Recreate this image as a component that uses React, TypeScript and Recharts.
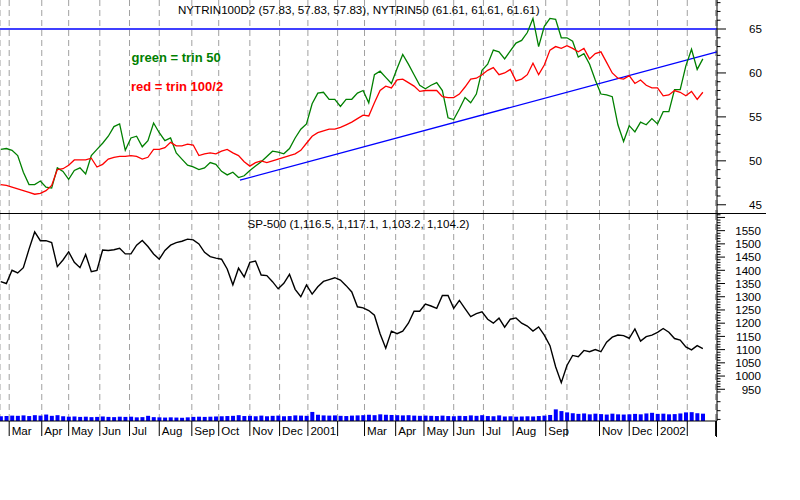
import {
    ComposedChart,
    Line,
    Bar,
    XAxis,
    YAxis,
    CartesianGrid,
    ReferenceLine,
} from "recharts";

// one point every 4 trading days, starting late Feb 2000
const STEP = 4;

// trading-day index of each month start, and the label printed under it
const MONTH_TICKS = [6, 29, 48, 70, 91, 112, 135, 154, 176, 197, 217, 238, 257, 279, 299, 320, 341, 362, 385, 400, 423, 444, 464, 485, 505];
const MONTH_LABELS = ["Mar", "Apr", "May", "Jun", "Jul", "Aug", "Sep", "Oct", "Nov", "Dec", "2001", "", "Mar", "Apr", "May", "Jun", "Jul", "Aug", "Sep", "", "Nov", "Dec", "2002", "", ""];

// NYTRIN50 (green)
const GREEN = [
    51.3, 51.4, 51.2, 50.6, 48.7, 47.3, 47.3, 47.7, 47.0, 46.9,
    49.2, 48.8, 47.9, 48.9, 49.2, 48.5, 50.6, 51.3, 52.0, 52.8,
    53.9, 54.2, 51.2, 52.6, 52.8, 51.6, 52.3, 54.3, 53.2, 52.3,
    52.6, 50.9, 50.2, 49.5, 49.3, 49.0, 49.2, 49.8, 49.6, 48.8,
    48.4, 48.7, 48.1, 48.3, 48.9, 49.4, 49.9, 50.5, 51.1, 51.0,
    50.8, 51.4, 52.6, 53.6, 54.2, 56.5, 57.7, 57.8, 57.0, 57.0,
    56.2, 57.0, 57.0, 57.7, 58.0, 56.6, 59.8, 60.2, 59.5, 58.8,
    60.5, 62.1, 61.0, 59.8, 58.6, 58.2, 58.6, 58.9, 58.0, 54.9,
    54.7, 55.9, 57.2, 56.6, 57.6, 60.3, 61.0, 62.6, 62.4, 61.6,
    62.5, 63.4, 63.7, 64.6, 66.2, 63.0, 65.3, 66.2, 66.1, 64.0,
    64.0, 63.6, 61.8, 62.2, 61.0, 59.2, 57.6, 57.5, 57.3, 54.1,
    52.2, 54.0, 53.3, 54.4, 54.1, 54.8, 54.2, 55.6, 55.6, 58.1,
    58.1, 60.8, 62.7, 60.4, 61.6,
];

// NYTRIN100D2 (red)
const RED = [
    47.3, 47.2, 47.0, 46.8, 46.6, 46.4, 46.2, 46.3, 46.6, 47.2,
    49.0, 49.1, 49.5, 50.1, 50.1, 50.1, 50.3, 49.3, 49.6, 50.2,
    50.4, 50.5, 50.5, 50.6, 50.5, 50.2, 50.4, 51.3, 51.3, 51.5,
    52.1, 51.7, 51.7, 51.9, 51.8, 50.6, 50.8, 50.9, 50.8, 51.1,
    51.3, 50.9, 50.6, 49.9, 49.4, 49.8, 50.0, 49.8, 50.0, 50.2,
    50.4, 50.6, 50.8, 51.2, 52.0, 52.8, 53.2, 53.4, 53.6, 53.6,
    53.8, 54.1, 54.4, 54.8, 55.2, 55.1, 56.6, 58.0, 58.5, 58.3,
    59.2, 59.3, 58.9, 58.5, 57.9, 58.0, 58.0, 58.0, 57.3, 57.2,
    57.2, 57.6, 58.4, 59.3, 59.4, 59.8, 60.3, 60.6, 59.8, 60.0,
    60.4, 59.1, 59.3, 59.8, 61.1, 59.8, 60.9, 62.6, 63.0, 62.8,
    63.1, 62.8, 62.4, 62.8, 61.6, 62.2, 62.4, 61.2, 60.0, 59.4,
    59.3, 59.7, 58.8, 59.2, 58.6, 58.3, 58.3, 57.4, 57.5, 58.0,
    57.8, 57.4, 57.9, 57.0, 57.8,
];

// SP-500 close
const SP500 = [
    1357, 1350, 1400, 1390, 1410, 1480, 1545, 1512, 1512, 1505,
    1414, 1439, 1470, 1430, 1410, 1460, 1395, 1400, 1477, 1475,
    1478, 1483, 1462, 1462, 1495, 1513, 1490, 1462, 1442, 1475,
    1495, 1505, 1510, 1518, 1515, 1500, 1468, 1452, 1446, 1442,
    1405, 1345, 1408, 1375, 1430, 1435, 1382, 1380, 1357, 1330,
    1351, 1385, 1328, 1300, 1345, 1310, 1338, 1358, 1365, 1372,
    1363, 1342, 1318, 1262, 1258, 1248, 1230, 1160, 1105, 1170,
    1160, 1170, 1200, 1245, 1245, 1272, 1265, 1256, 1305, 1305,
    1256, 1286, 1255, 1225, 1236, 1243, 1215, 1200, 1219, 1185,
    1215, 1220, 1200, 1189, 1170, 1186, 1155, 1115, 1035, 975,
    1040, 1078, 1073, 1097, 1092, 1100, 1092, 1128, 1147, 1155,
    1153, 1143, 1178, 1132, 1149, 1155, 1165, 1180, 1166, 1142,
    1136, 1110, 1099, 1115, 1104,
];

// volume, millions of shares
const VOLUME = [
    1100, 1150, 1250, 1200, 1300, 1150, 1350, 1250, 1500, 1200,
    1350, 1100, 1000, 1050, 950, 1000, 900, 950, 1050, 950,
    900, 1000, 950, 1000, 850, 900, 1200, 900, 850, 800,
    850, 800, 750, 850, 950, 1000, 950, 1000, 1050, 1100,
    1150, 1200, 1350, 1150, 1200, 1100, 1250, 1100, 1200, 1250,
    1100, 1150, 1300, 1250, 1200, 2100, 1450, 1300, 1250, 1300,
    1200, 1150, 1250, 1300, 1350, 1450, 1350, 1550, 1450, 1400,
    1350, 1300, 1350, 1250, 1200, 1250, 1200, 1150, 1250, 1150,
    1100, 1200, 1150, 1300, 1200, 1350, 1150, 1100, 1300, 1050,
    1100, 1000, 1050, 1100, 1050, 1150, 1250, 1400, 2700, 2300,
    2000, 1800, 1650, 1750, 1550, 1700, 1600, 1500, 1700, 1550,
    1500, 1550, 1650, 1550, 1750, 1900, 1650, 1700, 1550, 1600,
    1750, 2000, 2050, 1800, 1700,
];

const TRIN_TICKS = [44, 45, 46, 47, 48, 49, 50, 51, 52, 53, 54, 55, 56, 57, 58, 59, 60, 61, 62, 63, 64, 65, 66, 67, 68];
const SP_LABELS = [950, 1000, 1050, 1100, 1150, 1200, 1250, 1300, 1350, 1400, 1450, 1500, 1550];
const SP_LOW_TICKS = [836, 869, 903];

const UPPER_LIMIT = 65;
// trend line drawn under the TRIN lows: [index, value]
const TREND_FROM = [169, 47.8];
const TREND_TO = [506, 62.4];

const X_DOMAIN = [-0.5, 506];
const FONT = "'Liberation Sans', Arial, sans-serif";

const rows = GREEN.map((g, k) => ({
    i: k * STEP,
    green: g,
    red: RED[k],
    sp: SP500[k],
    vol: VOLUME[k],
}));

const spTicks = [...SP_LOW_TICKS];
for (let v = 940; v <= 1610; v += 10) spTicks.push(v);

const TrinTick = (props: any) => {
    const { x, y, payload } = props;
    const v = payload.value;
    const major = v % 5 === 0;
    return (
        <g>
            <line x1={x} x2={x + (major ? 9 : 3.5)} y1={y} y2={y} stroke="#000" />
            {major && (
                <text x={x + 45} y={y + 4.3} textAnchor="end" fontSize={11.6} fontFamily={FONT} fill="#000">
                    {v}
                </text>
            )}
        </g>
    );
};

const SpTick = (props: any) => {
    const { x, y, payload } = props;
    const v = payload.value;
    const major = v % 50 === 0;
    const label = SP_LABELS.includes(v);
    return (
        <g>
            <line x1={x} x2={x + (major ? 8 : 3.5)} y1={y} y2={y} stroke="#000" />
            {label && (
                <text x={x + 44} y={y + 4.3} textAnchor="end" fontSize={11.6} fontFamily={FONT} fill="#000">
                    {v}
                </text>
            )}
        </g>
    );
};

const MonthTick = (props: any) => {
    const { x, y, payload } = props;
    const label = MONTH_LABELS[MONTH_TICKS.indexOf(payload.value)];
    return (
        <g>
            <line x1={x} x2={x} y1={y} y2={y + 15} stroke="#000" />
            {label && (
                <text x={x + 2.5} y={y + 13.5} fontSize={11.6} fontFamily={FONT} fill="#000">
                    {label}
                </text>
            )}
        </g>
    );
};

export default function App() {
    return (
        <div style={{ position: "absolute", left: 0, top: 0, width: 800, height: 500, background: "#fff" }}>
            {/* upper panel: TRIN lines */}
            <div style={{ position: "absolute", left: 0, top: 0 }}>
                <ComposedChart width={800} height={214} data={rows} margin={{ top: 0, right: 0, bottom: 0, left: 0 }}>
                    <XAxis type="number" dataKey="i" domain={X_DOMAIN} ticks={MONTH_TICKS} interval={0} hide />
                    <YAxis
                        orientation="right"
                        domain={[43.95, 68.3]}
                        ticks={TRIN_TICKS}
                        interval={0}
                        width={83}
                        tick={TrinTick}
                        tickLine={false}
                        tickSize={0}
                        tickMargin={0}
                        axisLine={{ stroke: "#000" }}
                        allowDataOverflow
                    />
                    <CartesianGrid horizontal={false} stroke="#a0a0a0" strokeDasharray="6 4" />
                    <ReferenceLine y={UPPER_LIMIT} stroke="#0000ff" strokeWidth={1.3} />
                    <ReferenceLine
                        segment={[
                            { x: TREND_FROM[0], y: TREND_FROM[1] },
                            { x: TREND_TO[0], y: TREND_TO[1] },
                        ]}
                        stroke="#0000ff"
                        strokeWidth={1.3}
                    />
                    <Line dataKey="green" stroke="#008000" strokeWidth={1.3} dot={false} activeDot={false} isAnimationActive={false} />
                    <Line dataKey="red" stroke="#ff0000" strokeWidth={1.3} dot={false} activeDot={false} isAnimationActive={false} />
                </ComposedChart>
            </div>

            {/* lower panel: SP-500 with volume */}
            <div style={{ position: "absolute", left: 0, top: 214 }}>
                <ComposedChart width={800} height={286} data={rows} margin={{ top: 0, right: 0, bottom: 0, left: 0 }}>
                    <XAxis
                        type="number"
                        dataKey="i"
                        domain={X_DOMAIN}
                        ticks={MONTH_TICKS}
                        interval={0}
                        height={79}
                        tick={MonthTick}
                        tickLine={false}
                        tickSize={0}
                        tickMargin={0}
                        axisLine={{ stroke: "#000" }}
                    />
                    <YAxis
                        orientation="right"
                        domain={[830, 1613]}
                        ticks={spTicks}
                        interval={0}
                        width={83}
                        tick={SpTick}
                        tickLine={false}
                        tickSize={0}
                        tickMargin={0}
                        axisLine={{ stroke: "#000" }}
                        allowDataOverflow
                    />
                    <YAxis yAxisId="vol" orientation="right" domain={[0, 48000]} hide />
                    <CartesianGrid horizontal={false} stroke="#a0a0a0" strokeDasharray="6 4" />
                    <Bar dataKey="vol" yAxisId="vol" fill="#0000ff" barSize={4} activeBar={false} isAnimationActive={false} />
                    <Line dataKey="sp" stroke="#000" strokeWidth={1.4} dot={false} activeDot={false} isAnimationActive={false} />
                </ComposedChart>
            </div>

            {/* frame bits that run past the plot */}
            <div style={{ position: "absolute", left: 0, top: 213, width: 766, height: 1, background: "#000" }} />
            <div style={{ position: "absolute", left: 716, top: 421, width: 1, height: 16, background: "#000" }} />

            <svg width={800} height={500} style={{ position: "absolute", left: 0, top: 0, pointerEvents: "none" }}>
                <text x={178} y={14} fontSize={11.6} fontFamily={FONT} fill="#000">
                    NYTRIN100D2 (57.83, 57.83, 57.83), NYTRIN50 (61.61, 61.61, 61.61)
                </text>
                <text x={131.5} y={61.5} fontSize={13} fontWeight="bold" fontFamily={FONT} fill="#008000">
                    green = trin 50
                </text>
                <text x={131} y={91} fontSize={13} fontWeight="bold" fontFamily={FONT} fill="#ff0000">
                    red = trin 100/2
                </text>
                <text x={247.5} y={227.5} fontSize={11.6} fontFamily={FONT} fill="#000">
                    SP-500 (1,116.5, 1,117.1, 1,103.2, 1,104.2)
                </text>
            </svg>
        </div>
    );
}
